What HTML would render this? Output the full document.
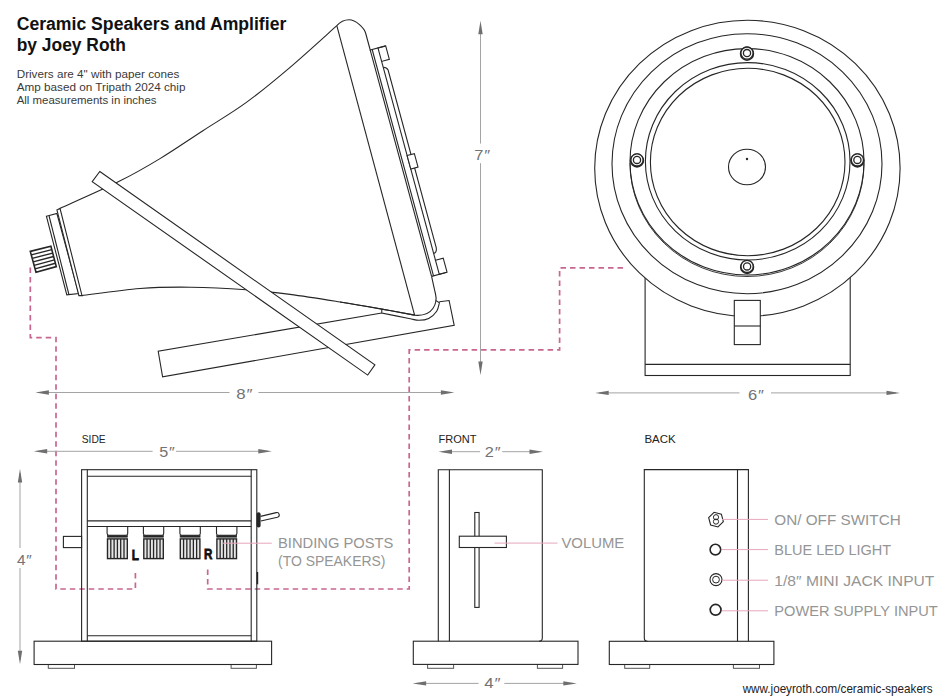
<!DOCTYPE html>
<html><head><meta charset="utf-8"><style>
html,body{margin:0;padding:0;background:#fff;}
svg{display:block;}
text{font-family:"Liberation Sans",sans-serif;}
</style></head><body>
<svg width="950" height="700" viewBox="0 0 950 700">
<rect width="950" height="700" fill="#fff"/>
<polyline points="30.30,267.50 30.30,337.60 56.00,337.60 56.00,589.00 135.40,589.00 135.40,569.50" fill="none" stroke="#c8668f" stroke-width="1.7" stroke-dasharray="5.5 4"/>
<polyline points="207.70,569.50 207.70,589.00 409.20,589.00 409.20,349.90 559.60,349.90 559.60,267.80 626.00,267.80" fill="none" stroke="#c8668f" stroke-width="1.7" stroke-dasharray="5.5 4"/>
<path d="M381.8,313 L158.2,351.3 L162.6,376.9 L454.2,325.4 L449.1,300.5 L439.3,301.8" fill="#fff" stroke="#262626" stroke-width="1.1" />
<path d="M60.00,208.40 C69.78,203.93 102.03,189.90 118.70,181.60 C135.37,173.30 145.97,167.08 160.00,158.60 C174.03,150.12 188.62,139.98 202.90,130.70 C217.18,121.42 231.42,113.25 245.70,102.90 C259.98,92.55 273.42,81.47 288.60,68.60 C303.78,55.73 328.77,32.85 336.80,25.70" fill="none" stroke="#262626" stroke-width="1.1" />
<path d="M82.00,295.60 C91.67,294.42 121.92,289.90 140.00,288.50 C158.08,287.10 172.83,287.00 190.50,287.20 C208.17,287.40 229.42,288.50 246.00,289.70 C262.58,290.90 274.33,292.35 290.00,294.40 C305.67,296.45 324.70,299.55 340.00,302.00 C355.30,304.45 369.37,306.92 381.80,309.10 C394.23,311.28 409.13,314.10 414.60,315.10" fill="none" stroke="#262626" stroke-width="1.1" />
<path d="M336.8,25.7 C340,22 344,19.8 349,19.8 C356,19.8 364.3,28.2 365.6,33 L370.50,51.00" fill="none" stroke="#262626" stroke-width="1.1" />
<line x1="336.80" y1="25.70" x2="414.60" y2="315.10" stroke="#262626" stroke-width="1.1" />
<path d="M431.58,276.37 L435.5,294 C437.5,302 434,317 414.5,315.2" fill="none" stroke="#262626" stroke-width="1.1" />
<line x1="370.24" y1="50.03" x2="431.58" y2="276.37" stroke="#262626" stroke-width="1.1" />
<line x1="372.17" y1="49.51" x2="433.51" y2="275.85" stroke="#262626" stroke-width="1.1" />
<line x1="370.24" y1="50.03" x2="385.68" y2="45.85" stroke="#262626" stroke-width="1.1" />
<polygon points="377.96,47.94 385.68,45.85 389.34,59.36 381.62,61.45" fill="none" stroke="#262626" stroke-width="1.1" stroke-linejoin="miter" />
<line x1="381.62" y1="61.45" x2="435.51" y2="260.29" stroke="#262626" stroke-width="1.1" />
<path d="M383.19,67.25 Q386.83,67.30 388.10,70.06 L436.23,247.66 Q437.06,252.61 433.68,253.53" fill="none" stroke="#262626" stroke-width="1.1" />
<polygon points="407.13,155.56 414.37,153.60 418.03,167.11 410.79,169.07" fill="#fff" stroke="#262626" stroke-width="1.1" stroke-linejoin="miter" />
<polygon points="435.51,260.29 443.23,258.19 447.03,272.19 439.31,274.28" fill="none" stroke="#262626" stroke-width="1.1" stroke-linejoin="miter" />
<line x1="431.58" y1="276.37" x2="447.03" y2="272.19" stroke="#262626" stroke-width="1.1" />
<polygon points="46.40,216.20 56.90,213.50 78.70,293.50 66.80,294.80" fill="#fff" stroke="#262626" stroke-width="1.1" stroke-linejoin="miter" />
<line x1="49.10" y1="216.00" x2="68.90" y2="294.50" stroke="#262626" stroke-width="1.1" />
<polygon points="56.90,209.90 60.00,208.40 82.00,295.60 78.90,295.60" fill="#fff" stroke="#262626" stroke-width="1.1" stroke-linejoin="miter" />
<polygon points="30.30,251.40 50.90,246.30 56.30,266.60 36.00,272.30" fill="#fff" stroke="#262626" stroke-width="1.6" stroke-linejoin="miter" />
<line x1="31.25" y1="254.88" x2="51.80" y2="249.68" stroke="#262626" stroke-width="1.4" />
<line x1="32.20" y1="258.37" x2="52.70" y2="253.07" stroke="#262626" stroke-width="1.4" />
<line x1="33.15" y1="261.85" x2="53.60" y2="256.45" stroke="#262626" stroke-width="1.4" />
<line x1="34.10" y1="265.33" x2="54.50" y2="259.83" stroke="#262626" stroke-width="1.4" />
<line x1="35.05" y1="268.82" x2="55.40" y2="263.22" stroke="#262626" stroke-width="1.4" />
<path d="M381.8,309.1 L381.80,313.00 C386.33,313.92 402.83,317.28 409.00,318.50 C415.17,319.72 415.52,320.30 418.80,320.30 C422.08,320.30 425.72,320.00 428.70,318.50 C431.68,317.00 434.92,313.92 436.70,311.30 C438.48,308.68 438.95,304.22 439.40,302.80 L435.6,300.4" fill="none" stroke="#262626" stroke-width="1.1" />
<path d="M340.00,302.00 C346.97,303.18 369.37,306.92 381.80,309.10 C394.23,311.28 409.13,314.10 414.60,315.10" fill="none" stroke="#262626" stroke-width="1.1" />
<polygon points="99.80,171.50 374.90,364.90 367.70,375.10 92.20,181.60" fill="#fff" stroke="#262626" stroke-width="1.1" stroke-linejoin="miter" />
<rect x="645.10" y="240.00" width="205.10" height="135.50" fill="none" stroke="#262626" stroke-width="1.1" />
<line x1="645.10" y1="364.40" x2="850.20" y2="364.40" stroke="#262626" stroke-width="1.1" />
<ellipse cx="747.4" cy="168.3" rx="152.7" ry="148" fill="#fff" stroke="#262626" stroke-width="1.1"/>
<ellipse cx="747" cy="163.7" rx="135" ry="130" fill="none" stroke="#262626" stroke-width="1.1"/>
<ellipse cx="747" cy="161.8" rx="117" ry="113.2" fill="none" stroke="#262626" stroke-width="1.1"/>
<path d="M630,163.3 A117,113.2 0 0 0 864,163.3" fill="none" stroke="#262626" stroke-width="0.9" />
<ellipse cx="747.7" cy="161.3" rx="102.3" ry="98.7" fill="none" stroke="#262626" stroke-width="1.1"/>
<ellipse cx="747.7" cy="162" rx="97.3" ry="93.7" fill="none" stroke="#262626" stroke-width="1.1"/>
<ellipse cx="747" cy="167" rx="18.5" ry="17.8" fill="none" stroke="#262626" stroke-width="1.1"/>
<circle cx="747" cy="159" r="1.2" fill="#262626"/>
<circle cx="747" cy="53.7" r="6.4" fill="#fff" stroke="#262626" stroke-width="1.6"/>
<circle cx="747" cy="53.1" r="6.1" fill="#fff" stroke="#262626" stroke-width="1.3"/>
<circle cx="747" cy="53.1" r="3.6" fill="none" stroke="#262626" stroke-width="1.3"/>
<circle cx="637" cy="160.5" r="6.4" fill="#fff" stroke="#262626" stroke-width="1.6"/>
<circle cx="637" cy="159.9" r="6.1" fill="#fff" stroke="#262626" stroke-width="1.3"/>
<circle cx="637" cy="159.9" r="3.6" fill="none" stroke="#262626" stroke-width="1.3"/>
<circle cx="857.4" cy="160.5" r="6.4" fill="#fff" stroke="#262626" stroke-width="1.6"/>
<circle cx="857.4" cy="159.9" r="6.1" fill="#fff" stroke="#262626" stroke-width="1.3"/>
<circle cx="857.4" cy="159.9" r="3.6" fill="none" stroke="#262626" stroke-width="1.3"/>
<circle cx="747.1" cy="267.0" r="6.4" fill="#fff" stroke="#262626" stroke-width="1.6"/>
<circle cx="747.1" cy="266.4" r="6.1" fill="#fff" stroke="#262626" stroke-width="1.3"/>
<circle cx="747.1" cy="266.4" r="3.6" fill="none" stroke="#262626" stroke-width="1.3"/>
<rect x="734.30" y="300.40" width="26.00" height="44.20" fill="#fff" stroke="#262626" stroke-width="1.1" />
<line x1="734.30" y1="326.00" x2="760.30" y2="326.00" stroke="#262626" stroke-width="1.1" />
<line x1="480.50" y1="24.70" x2="480.50" y2="143.60" stroke="#a4a4a4" stroke-width="1" />
<line x1="480.50" y1="163.20" x2="480.50" y2="371.00" stroke="#a4a4a4" stroke-width="1" />
<polygon points="480.50,20.70 482.70,34.20 478.30,34.20" fill="#6f6f6f"/>
<polygon points="480.50,375.00 478.30,361.50 482.70,361.50" fill="#6f6f6f"/>
<text x="474.30" y="159.60" font-size="15" fill="#737373" textLength="15.0" lengthAdjust="spacingAndGlyphs">7<tspan font-style="italic">″</tspan></text>
<line x1="39.40" y1="392.50" x2="229.50" y2="392.50" stroke="#a4a4a4" stroke-width="1" />
<line x1="258.40" y1="392.50" x2="450.40" y2="392.50" stroke="#a4a4a4" stroke-width="1" />
<polygon points="35.40,392.50 48.90,390.30 48.90,394.70" fill="#6f6f6f"/>
<polygon points="454.40,392.50 440.90,394.70 440.90,390.30" fill="#6f6f6f"/>
<text x="236.30" y="399.00" font-size="15" fill="#737373" textLength="15.3" lengthAdjust="spacingAndGlyphs">8<tspan font-style="italic">″</tspan></text>
<line x1="599.20" y1="392.90" x2="739.50" y2="392.90" stroke="#a4a4a4" stroke-width="1" />
<line x1="771.00" y1="392.90" x2="896.00" y2="392.90" stroke="#a4a4a4" stroke-width="1" />
<polygon points="595.20,392.90 608.70,390.70 608.70,395.10" fill="#6f6f6f"/>
<polygon points="900.00,392.90 886.50,395.10 886.50,390.70" fill="#6f6f6f"/>
<text x="748.00" y="399.50" font-size="15" fill="#737373" textLength="15.0" lengthAdjust="spacingAndGlyphs">6<tspan font-style="italic">″</tspan></text>
<line x1="37.70" y1="451.30" x2="152.60" y2="451.30" stroke="#a4a4a4" stroke-width="1" />
<line x1="176.00" y1="451.30" x2="267.80" y2="451.30" stroke="#a4a4a4" stroke-width="1" />
<polygon points="33.70,451.30 47.20,449.10 47.20,453.50" fill="#6f6f6f"/>
<polygon points="271.80,451.30 258.30,453.50 258.30,449.10" fill="#6f6f6f"/>
<text x="159.30" y="456.80" font-size="15" fill="#737373" textLength="14.7" lengthAdjust="spacingAndGlyphs">5<tspan font-style="italic">″</tspan></text>
<line x1="20.00" y1="473.00" x2="20.00" y2="548.00" stroke="#a4a4a4" stroke-width="1" />
<line x1="20.00" y1="568.00" x2="20.00" y2="660.20" stroke="#a4a4a4" stroke-width="1" />
<polygon points="20.00,469.00 22.20,482.50 17.80,482.50" fill="#6f6f6f"/>
<polygon points="20.00,664.20 17.80,650.70 22.20,650.70" fill="#6f6f6f"/>
<text x="17.00" y="565.00" font-size="15" fill="#737373" textLength="14.0" lengthAdjust="spacingAndGlyphs">4<tspan font-style="italic">″</tspan></text>
<rect x="48.30" y="664.50" width="26.20" height="3.80" fill="none" stroke="#555" stroke-width="1" />
<rect x="231.10" y="664.50" width="25.30" height="3.80" fill="none" stroke="#555" stroke-width="1" />
<rect x="34.10" y="641.20" width="237.50" height="23.30" fill="#fff" stroke="#262626" stroke-width="1.1" />
<rect x="81.60" y="469.70" width="175.20" height="171.50" fill="none" stroke="#262626" stroke-width="1.1" />
<line x1="87.30" y1="469.70" x2="87.30" y2="641.20" stroke="#262626" stroke-width="1.1" />
<line x1="251.20" y1="469.70" x2="251.20" y2="641.20" stroke="#262626" stroke-width="1.1" />
<line x1="87.30" y1="476.20" x2="251.20" y2="476.20" stroke="#262626" stroke-width="1.1" />
<line x1="87.30" y1="635.80" x2="251.20" y2="635.80" stroke="#262626" stroke-width="1.1" />
<line x1="87.30" y1="520.90" x2="251.20" y2="520.90" stroke="#262626" stroke-width="1.1" />
<line x1="87.30" y1="526.50" x2="251.20" y2="526.50" stroke="#262626" stroke-width="1.1" />
<rect x="63.40" y="536.40" width="18.20" height="11.20" fill="none" stroke="#262626" stroke-width="1.1" />
<path d="M107.1,526.5 L107.1,533.5 Q107.1,535.3 109.1,535.3 L125.7,535.3 Q127.7,535.3 127.7,533.5 L127.7,526.5" fill="none" stroke="#262626" stroke-width="1.1" />
<rect x="107.30" y="535.60" width="20.20" height="1.60" fill="#262626" stroke="#262626" stroke-width="0.6" />
<rect x="107.50" y="538.90" width="19.80" height="19.70" fill="#e6e6e6" stroke="#262626" stroke-width="1.4" />
<line x1="110.80" y1="538.90" x2="110.80" y2="558.60" stroke="#262626" stroke-width="1.3" />
<line x1="114.10" y1="538.90" x2="114.10" y2="558.60" stroke="#262626" stroke-width="1.3" />
<line x1="117.40" y1="538.90" x2="117.40" y2="558.60" stroke="#262626" stroke-width="1.3" />
<line x1="120.70" y1="538.90" x2="120.70" y2="558.60" stroke="#262626" stroke-width="1.3" />
<line x1="124.00" y1="538.90" x2="124.00" y2="558.60" stroke="#262626" stroke-width="1.3" />
<path d="M143.4,526.5 L143.4,533.5 Q143.4,535.3 145.4,535.3 L161.7,535.3 Q163.7,535.3 163.7,533.5 L163.7,526.5" fill="none" stroke="#262626" stroke-width="1.1" />
<rect x="143.60" y="535.60" width="19.90" height="1.60" fill="#262626" stroke="#262626" stroke-width="0.6" />
<rect x="143.80" y="538.90" width="19.50" height="19.70" fill="#e6e6e6" stroke="#262626" stroke-width="1.4" />
<line x1="147.05" y1="538.90" x2="147.05" y2="558.60" stroke="#262626" stroke-width="1.3" />
<line x1="150.30" y1="538.90" x2="150.30" y2="558.60" stroke="#262626" stroke-width="1.3" />
<line x1="153.55" y1="538.90" x2="153.55" y2="558.60" stroke="#262626" stroke-width="1.3" />
<line x1="156.80" y1="538.90" x2="156.80" y2="558.60" stroke="#262626" stroke-width="1.3" />
<line x1="160.05" y1="538.90" x2="160.05" y2="558.60" stroke="#262626" stroke-width="1.3" />
<path d="M179.9,526.5 L179.9,533.5 Q179.9,535.3 181.9,535.3 L198.3,535.3 Q200.3,535.3 200.3,533.5 L200.3,526.5" fill="none" stroke="#262626" stroke-width="1.1" />
<rect x="180.10" y="535.60" width="20.00" height="1.60" fill="#262626" stroke="#262626" stroke-width="0.6" />
<rect x="180.30" y="538.90" width="19.60" height="19.70" fill="#e6e6e6" stroke="#262626" stroke-width="1.4" />
<line x1="183.57" y1="538.90" x2="183.57" y2="558.60" stroke="#262626" stroke-width="1.3" />
<line x1="186.83" y1="538.90" x2="186.83" y2="558.60" stroke="#262626" stroke-width="1.3" />
<line x1="190.10" y1="538.90" x2="190.10" y2="558.60" stroke="#262626" stroke-width="1.3" />
<line x1="193.37" y1="538.90" x2="193.37" y2="558.60" stroke="#262626" stroke-width="1.3" />
<line x1="196.63" y1="538.90" x2="196.63" y2="558.60" stroke="#262626" stroke-width="1.3" />
<path d="M216.5,526.5 L216.5,533.5 Q216.5,535.3 218.5,535.3 L234.9,535.3 Q236.9,535.3 236.9,533.5 L236.9,526.5" fill="none" stroke="#262626" stroke-width="1.1" />
<rect x="216.70" y="535.60" width="20.00" height="1.60" fill="#262626" stroke="#262626" stroke-width="0.6" />
<rect x="216.90" y="538.90" width="19.60" height="19.70" fill="#e6e6e6" stroke="#262626" stroke-width="1.4" />
<line x1="220.17" y1="538.90" x2="220.17" y2="558.60" stroke="#262626" stroke-width="1.3" />
<line x1="223.43" y1="538.90" x2="223.43" y2="558.60" stroke="#262626" stroke-width="1.3" />
<line x1="226.70" y1="538.90" x2="226.70" y2="558.60" stroke="#262626" stroke-width="1.3" />
<line x1="229.97" y1="538.90" x2="229.97" y2="558.60" stroke="#262626" stroke-width="1.3" />
<line x1="233.23" y1="538.90" x2="233.23" y2="558.60" stroke="#262626" stroke-width="1.3" />
<text x="131.80" y="559.50" font-size="14.5" fill="#111" font-weight="bold" text-anchor="start" textLength="7.2" lengthAdjust="spacingAndGlyphs" stroke="#111" stroke-width="0.8">L</text>
<text x="204.00" y="559.40" font-size="14.5" fill="#111" font-weight="bold" text-anchor="start" textLength="8.4" lengthAdjust="spacingAndGlyphs" stroke="#111" stroke-width="0.8">R</text>
<path d="M260.5,516.4 L276.2,512.6 A2.4,2.4 0 0 1 277.4,517.3 L260.8,521.0" fill="#fff" stroke="#262626" stroke-width="1.1" />
<rect x="256.6" y="512.3" width="4" height="15.2" rx="2" fill="#262626"/>
<rect x="256.60" y="572.00" width="1.60" height="12.30" fill="#262626" stroke="#262626" stroke-width="0" />
<line x1="223.00" y1="543.20" x2="271.80" y2="543.20" stroke="#e7a6bd" stroke-width="1" />
<text x="278.00" y="548.00" font-size="15.3" fill="#959595" font-weight="normal" text-anchor="start" textLength="115.4" lengthAdjust="spacingAndGlyphs" >BINDING POSTS</text>
<text x="278.00" y="566.30" font-size="15.3" fill="#959595" font-weight="normal" text-anchor="start" textLength="107.5" lengthAdjust="spacingAndGlyphs" >(TO SPEAKERS)</text>
<text x="81.70" y="442.80" font-size="11.4" fill="#222" font-weight="normal" text-anchor="start" textLength="24.0" lengthAdjust="spacingAndGlyphs" >SIDE</text>
<line x1="442.50" y1="451.70" x2="480.00" y2="451.70" stroke="#a4a4a4" stroke-width="1" />
<line x1="502.20" y1="451.70" x2="539.00" y2="451.70" stroke="#a4a4a4" stroke-width="1" />
<polygon points="438.50,451.70 452.00,449.50 452.00,453.90" fill="#6f6f6f"/>
<polygon points="543.00,451.70 529.50,453.90 529.50,449.50" fill="#6f6f6f"/>
<text x="484.80" y="457.40" font-size="15" fill="#737373" textLength="14.9" lengthAdjust="spacingAndGlyphs">2<tspan font-style="italic">″</tspan></text>
<line x1="416.60" y1="683.40" x2="478.60" y2="683.40" stroke="#a4a4a4" stroke-width="1" />
<line x1="504.30" y1="683.40" x2="572.80" y2="683.40" stroke="#a4a4a4" stroke-width="1" />
<polygon points="412.60,683.40 426.10,681.20 426.10,685.60" fill="#6f6f6f"/>
<polygon points="576.80,683.40 563.30,685.60 563.30,681.20" fill="#6f6f6f"/>
<text x="484.30" y="688.30" font-size="15" fill="#737373" textLength="15.4" lengthAdjust="spacingAndGlyphs">4<tspan font-style="italic">″</tspan></text>
<rect x="427.60" y="664.40" width="26.00" height="3.90" fill="none" stroke="#555" stroke-width="1" />
<rect x="537.40" y="664.40" width="25.20" height="3.90" fill="none" stroke="#555" stroke-width="1" />
<rect x="413.30" y="641.20" width="164.70" height="23.20" fill="#fff" stroke="#262626" stroke-width="1.1" />
<path d="M438.3,641.2 L438.3,469.7 L542.3,469.7 L542.3,638 Q542.3,641.2 539,641.2" fill="none" stroke="#262626" stroke-width="1.1" />
<line x1="449.40" y1="469.70" x2="449.40" y2="641.20" stroke="#262626" stroke-width="1.1" />
<rect x="474.80" y="512.50" width="4.30" height="94.90" fill="#fff" stroke="#262626" stroke-width="1.1" />
<rect x="459.30" y="536.20" width="47.10" height="11.30" fill="#fff" stroke="#262626" stroke-width="1.1" />
<line x1="494.50" y1="543.10" x2="557.50" y2="543.10" stroke="#e7a6bd" stroke-width="1" />
<text x="561.40" y="548.30" font-size="15.3" fill="#959595" font-weight="normal" text-anchor="start" textLength="62.9" lengthAdjust="spacingAndGlyphs" >VOLUME</text>
<text x="438.50" y="442.80" font-size="11.4" fill="#222" font-weight="normal" text-anchor="start" textLength="38.0" lengthAdjust="spacingAndGlyphs" >FRONT</text>
<rect x="624.70" y="664.50" width="25.00" height="3.80" fill="none" stroke="#555" stroke-width="1" />
<rect x="733.40" y="664.50" width="26.10" height="3.80" fill="none" stroke="#555" stroke-width="1" />
<rect x="609.30" y="641.30" width="164.60" height="23.20" fill="#fff" stroke="#262626" stroke-width="1.1" />
<path d="M647.5,641.3 Q644.3,641.3 644.3,638 L644.3,469.6 L748.4,469.6 L748.4,641.3" fill="none" stroke="#262626" stroke-width="1.1" />
<line x1="737.50" y1="469.60" x2="737.50" y2="641.30" stroke="#262626" stroke-width="1.1" />
<text x="644.40" y="443.00" font-size="11.4" fill="#222" font-weight="normal" text-anchor="start" textLength="31.2" lengthAdjust="spacingAndGlyphs" >BACK</text>
<polygon points="723.34,521.57 717.97,526.94 710.63,524.97 708.66,517.63 714.03,512.26 721.37,514.23" fill="none" stroke="#262626" stroke-width="1.1" stroke-linejoin="miter" />
<circle cx="716" cy="517.2" r="2.6" fill="none" stroke="#262626" stroke-width="1"/>
<circle cx="716" cy="521.6" r="2.6" fill="none" stroke="#262626" stroke-width="1"/>
<circle cx="715.4" cy="549.6" r="5.3" fill="none" stroke="#262626" stroke-width="1.6"/>
<circle cx="716" cy="579.6" r="6" fill="none" stroke="#262626" stroke-width="1.1"/>
<circle cx="716" cy="579.6" r="3.4" fill="none" stroke="#262626" stroke-width="1"/>
<circle cx="715.6" cy="609.8" r="5.4" fill="none" stroke="#262626" stroke-width="1.7"/>
<line x1="722.00" y1="519.40" x2="768.00" y2="519.40" stroke="#e7a6bd" stroke-width="1" />
<line x1="722.00" y1="549.60" x2="768.00" y2="549.60" stroke="#e7a6bd" stroke-width="1" />
<line x1="722.00" y1="580.20" x2="768.00" y2="580.20" stroke="#e7a6bd" stroke-width="1" />
<line x1="722.00" y1="610.80" x2="768.00" y2="610.80" stroke="#e7a6bd" stroke-width="1" />
<text x="774.30" y="524.60" font-size="15.3" fill="#959595" font-weight="normal" text-anchor="start" textLength="126.4" lengthAdjust="spacingAndGlyphs" >ON/ OFF SWITCH</text>
<text x="774.30" y="555.30" font-size="15.3" fill="#959595" font-weight="normal" text-anchor="start" textLength="116.9" lengthAdjust="spacingAndGlyphs" >BLUE LED LIGHT</text>
<text x="774.30" y="585.70" font-size="15.3" fill="#959595" font-weight="normal" text-anchor="start" textLength="160.1" lengthAdjust="spacingAndGlyphs" >1/8″ MINI JACK INPUT</text>
<text x="774.30" y="616.30" font-size="15.3" fill="#959595" font-weight="normal" text-anchor="start" textLength="163.4" lengthAdjust="spacingAndGlyphs" >POWER SUPPLY INPUT</text>
<text x="742.70" y="693.20" font-size="12.2" fill="#222" font-weight="normal" text-anchor="start" textLength="189.9" lengthAdjust="spacingAndGlyphs" >www.joeyroth.com/ceramic-speakers</text>
<text x="16.70" y="30.00" font-size="18" fill="#111" font-weight="bold" text-anchor="start" textLength="269.6" lengthAdjust="spacingAndGlyphs" >Ceramic Speakers and Amplifier</text>
<text x="16.70" y="51.40" font-size="18" fill="#111" font-weight="bold" text-anchor="start" textLength="109.3" lengthAdjust="spacingAndGlyphs" >by Joey Roth</text>
<text x="16.70" y="77.60" font-size="11.2" fill="#3a3a3a" font-weight="normal" text-anchor="start" textLength="162.7" lengthAdjust="spacingAndGlyphs" >Drivers are 4" with paper cones</text>
<text x="16.70" y="91.00" font-size="11.2" fill="#3a3a3a" font-weight="normal" text-anchor="start" textLength="168.8" lengthAdjust="spacingAndGlyphs" >Amp based on Tripath 2024 chip</text>
<text x="16.70" y="104.20" font-size="11.2" fill="#3a3a3a" font-weight="normal" text-anchor="start" textLength="139.8" lengthAdjust="spacingAndGlyphs" >All measurements in inches</text>
</svg>
</body></html>
